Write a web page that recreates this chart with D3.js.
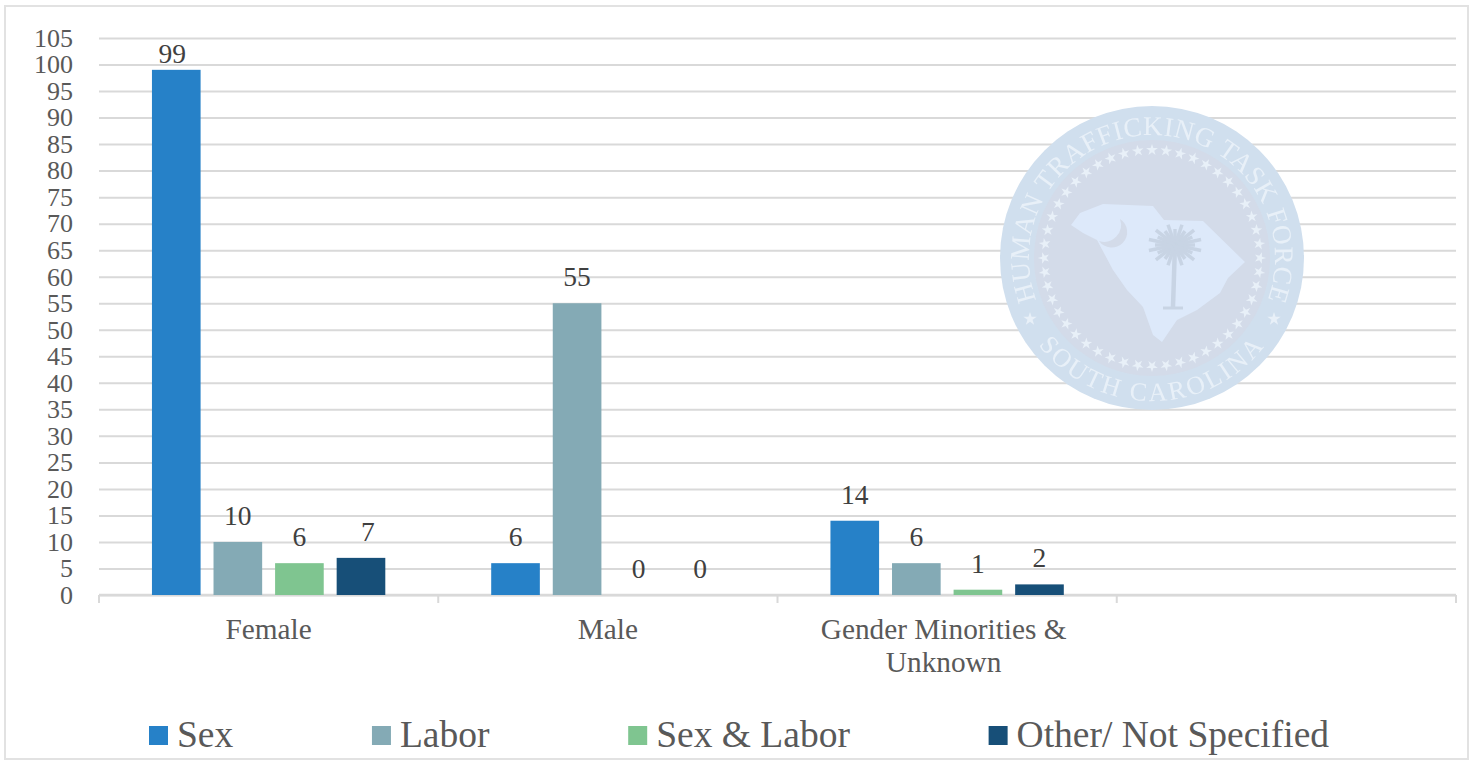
<!DOCTYPE html>
<html>
<head>
<meta charset="utf-8">
<script src="https://cdn.jsdelivr.net/npm/d3@7"></script>
<style>
  body { margin: 0; background: #fff; }
  svg { display: block; }
  text { font-family: "Liberation Serif", serif; }
  .domain { display: none; }
</style>
</head>
<body>
<svg id="chart" width="1474" height="760"></svg>
<script>
// Data
const categories = ['Female', 'Male', 'Gender Minorities & Unknown', ''];
const seriesNames = ['Sex', 'Labor', 'Sex & Labor', 'Other/ Not Specified'];
const sexValues = [99, 6, 14];
const laborValues = [10, 55, 6];
const sexLaborValues = [6, 0, 1];
const otherValues = [7, 0, 2];
const yTicks = d3.range(0, 106, 5);

const seriesValues = [sexValues, laborValues, sexLaborValues, otherValues];
const colors = ['#2681c8', '#84aab5', '#7fc590', '#174f78'];

const width = 1474, height = 760;
const margin = { left: 99, right: 18, top: 38, bottom: 165 };

const svg = d3.select('#chart');

// outer frame
svg.append('rect')
  .attr('x', 5).attr('y', 6)
  .attr('width', 1463).attr('height', 753)
  .attr('fill', '#fff')
  .attr('stroke', '#e2e2e2')
  .attr('stroke-width', 2);

const x = d3.scaleBand().domain(categories).range([margin.left, width - margin.right]);
const inner = d3.scaleBand().domain(seriesNames).range([0, x.bandwidth()]).paddingInner(0.21).paddingOuter(0.86);
const y = d3.scaleLinear().domain([0, 105]).range([height - margin.bottom, margin.top]);

// gridlines + y labels
const yAxis = svg.append('g')
  .attr('transform', `translate(${margin.left},0)`)
  .call(d3.axisLeft(y).tickValues(yTicks).tickSize(-(width - margin.left - margin.right)).tickPadding(26));
yAxis.selectAll('line').attr('stroke', '#d9d9d9').attr('stroke-width', 2);
yAxis.selectAll('text').attr('fill', '#595959').attr('font-size', 26).attr('font-family', '"Liberation Serif", serif');

drawLogo(1152, 258);

// x axis, ticks on the band edges
const baseY = y(0);
svg.append('line')
  .attr('x1', margin.left).attr('x2', width - margin.right)
  .attr('y1', baseY).attr('y2', baseY)
  .attr('stroke', '#d9d9d9').attr('stroke-width', 2.5);
svg.selectAll('.sep')
  .data(categories.map(c => x(c)).concat(width - margin.right))
  .enter().append('line')
  .attr('class', 'sep')
  .attr('x1', d => d).attr('x2', d => d)
  .attr('y1', baseY).attr('y2', baseY + 8)
  .attr('stroke', '#d9d9d9').attr('stroke-width', 2);

// bars
const groups = svg.selectAll('.series')
  .data(seriesNames)
  .enter().append('g')
  .attr('class', 'series');

groups.each(function(name, i) {
  const g = d3.select(this);
  const rows = seriesValues[i].map((v, j) => ({ cat: categories[j], value: v }));
  g.selectAll('rect')
    .data(rows)
    .enter().append('rect')
    .attr('x', d => x(d.cat) + inner(name))
    .attr('width', inner.bandwidth())
    .attr('y', d => y(d.value))
    .attr('height', d => y(0) - y(d.value))
    .attr('fill', colors[i]);
  g.selectAll('text')
    .data(rows)
    .enter().append('text')
    .attr('x', d => x(d.cat) + inner(name) + inner.bandwidth() / 2 + labelNudge(d))
    .attr('y', d => Math.max(y(d.value) - 17, 63))
    .attr('text-anchor', 'middle')
    .attr('font-size', 27.5)
    .attr('fill', '#404040')
    .text(d => d.value);
});

// a couple of labels were dragged sideways in the original
function labelNudge(d) {
  if (d.value === 99) return -4;
  if (d.value === 7) return 7;
  return 0;
}

// category labels
const catLines = { 'Gender Minorities & Unknown': ['Gender Minorities &', 'Unknown'] };
categories.forEach(c => {
  const lines = catLines[c] || [c];
  const shift = lines.length > 1 ? -3.5 : 0;
  lines.forEach((line, k) => {
    svg.append('text')
      .attr('x', x(c) + x.bandwidth() / 2 + shift)
      .attr('y', 639 + k * 33)
      .attr('text-anchor', 'middle')
      .attr('font-size', 29.3)
      .attr('fill', '#595959')
      .text(line);
  });
});

// legend, laid out by measured text width
let legendX = 149;
seriesNames.forEach((name, i) => {
  svg.append('rect')
    .attr('x', legendX).attr('y', 726)
    .attr('width', 19).attr('height', 19)
    .attr('fill', colors[i]);
  const t = svg.append('text')
    .attr('x', legendX + 28).attr('y', 747)
    .attr('font-size', 37.5)
    .attr('fill', '#595959')
    .text(name);
  legendX += 28 + t.node().getComputedTextLength() + 138.7;
});

// watermark seal behind the bars
function drawLogo(cx, cy) {
  const defs = svg.append('defs');
  defs.append('filter').attr('id', 'soft')
    .append('feGaussianBlur').attr('stdDeviation', 0.6);

  const logo = svg.append('g')
    .attr('transform', `translate(${cx},${cy})`)
    .attr('filter', 'url(#soft)');
  const outerFill = '#d0dfee', innerFill = '#d3dbe9', landFill = '#dde9fa', inkFill = '#e8f0f8';

  logo.append('circle').attr('r', 152).attr('fill', outerFill);
  logo.append('circle').attr('r', 118).attr('fill', innerFill);

  // ring of stars
  logo.selectAll('.ring-star')
    .data(d3.range(48))
    .enter().append('path')
    .attr('class', 'ring-star')
    .attr('d', d3.symbol().type(d3.symbolStar).size(42))
    .attr('fill', inkFill)
    .attr('transform', d => {
      const a = d / 48 * 2 * Math.PI;
      return `translate(${108 * Math.sin(a)},${-108 * Math.cos(a)}) rotate(${d / 48 * 360})`;
    });
  logo.selectAll('.side-star')
    .data([-1, 1])
    .enter().append('path')
    .attr('class', 'side-star')
    .attr('d', d3.symbol().type(d3.symbolStar).size(55))
    .attr('fill', inkFill)
    .attr('transform', d => `translate(${d * 122},61)`);

  // state outline, traced from the seal
  const stateOutline = [
    [-81, -33], [-72, -45], [-49, -54], [1, -52], [12, -38], [51, -37], [93, 4], [76, 20],
    [68, 35], [45, 52], [25, 62], [10, 84], [1, 77], [-9, 49], [-25, 32], [-39, 12],
    [-55, -18], [-69, -25]
  ];
  logo.append('path')
    .attr('d', d3.line().curve(d3.curveLinearClosed)(stateOutline))
    .attr('fill', landFill);

  // crescent
  logo.append('path')
    .attr('d', 'M -32 -39 A 15.5 15.5 0 1 1 -53 -17 A 17 17 0 0 0 -32 -39 Z')
    .attr('fill', innerFill);

  // palmetto
  const palm = logo.append('g').attr('fill', 'none').attr('stroke', '#c8d4e4');
  palm.append('path').attr('d', 'M 23 -14 L 21 49').attr('stroke-width', 4.5);
  palm.append('path').attr('d', 'M 11 50 L 31 50').attr('stroke-width', 3);
  palm.selectAll('.frond')
    .data(d3.range(-165, 166, 15))
    .enter().append('line')
    .attr('class', 'frond')
    .attr('x1', 23).attr('y1', -13)
    .attr('x2', (d, i) => 23 + (i % 2 ? 20 : 27) * Math.sin(d * Math.PI / 180))
    .attr('y2', (d, i) => -13 - (i % 2 ? 16 : 21) * Math.cos(d * Math.PI / 180))
    .attr('stroke-width', 3.5);

  // lettering along the ring
  const topR = 123, botR = 143;
  const topA = 25 * Math.PI / 180, botA = 25 * Math.PI / 180;
  defs.append('path').attr('id', 'arcTop')
    .attr('d', `M ${-topR * Math.cos(topA)} ${topR * Math.sin(topA)} A ${topR} ${topR} 0 1 1 ${topR * Math.cos(topA)} ${topR * Math.sin(topA)}`);
  defs.append('path').attr('id', 'arcBottom')
    .attr('d', `M ${-botR * Math.cos(botA)} ${botR * Math.sin(botA)} A ${botR} ${botR} 0 0 0 ${botR * Math.cos(botA)} ${botR * Math.sin(botA)}`);

  logo.append('text')
    .attr('font-size', 27).attr('fill', inkFill).attr('letter-spacing', 0.6)
    .attr('text-anchor', 'middle')
    .append('textPath').attr('href', '#arcTop').attr('startOffset', '50%')
    .text('HUMAN TRAFFICKING TASK FORCE');

  logo.append('text')
    .attr('font-size', 26).attr('fill', inkFill).attr('letter-spacing', 2.5)
    .attr('text-anchor', 'middle')
    .append('textPath').attr('href', '#arcBottom').attr('startOffset', '50%')
    .text('SOUTH CAROLINA');
}
</script>
</body>
</html>
